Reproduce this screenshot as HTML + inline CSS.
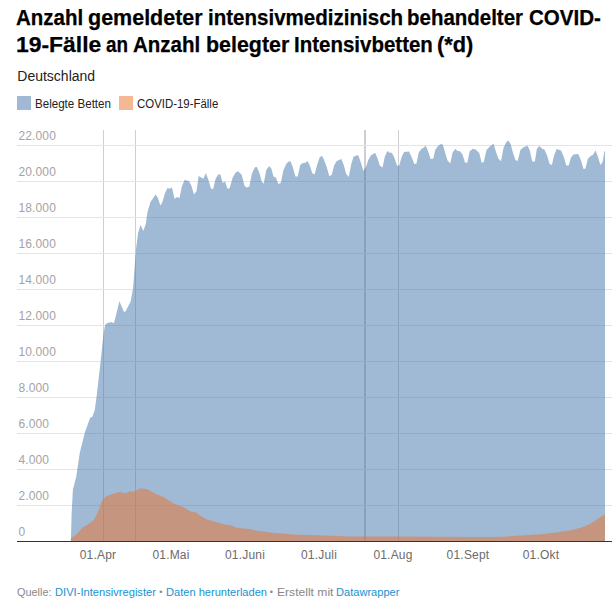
<!DOCTYPE html>
<html><head><meta charset="utf-8"><style>
html,body{margin:0;padding:0;background:#fff;}
body{width:612px;height:603px;position:relative;overflow:hidden;font-family:"Liberation Sans",sans-serif;}
.t{position:absolute;left:17px;font-weight:bold;font-size:22px;line-height:26px;color:#000;-webkit-text-stroke:0.25px #000;white-space:nowrap;transform-origin:0 0;}
.sub{position:absolute;left:17.3px;top:67px;font-size:14px;line-height:18px;color:#222;white-space:nowrap;transform-origin:0 0;}
.lg{position:absolute;top:97px;font-size:12px;line-height:14px;color:#222;white-space:nowrap;transform-origin:0 0;}
.sw{position:absolute;top:96px;width:14px;height:14px;}
.yl{position:absolute;left:18.4px;letter-spacing:0.15px;font-size:12px;line-height:14px;color:#a3a3a3;white-space:nowrap;}
.xl{position:absolute;top:548px;width:80px;text-align:center;letter-spacing:0.2px;font-size:12px;line-height:14px;color:#6b6b6b;white-space:nowrap;}
.ft{position:absolute;left:17px;top:585px;font-size:11px;line-height:14px;color:#888;white-space:nowrap;transform-origin:0 0;}
.lk{color:#1892d0;}
svg{position:absolute;left:0;top:0;}
</style></head><body>
<div class="t" style="top:5px;left:16.27px;transform:scaleX(0.9314)">Anzahl</div>
<div class="t" style="top:5px;left:88.22px;transform:scaleX(0.9767)">gemeldeter</div>
<div class="t" style="top:5px;left:208.37px;transform:scaleX(0.9333)">intensivmedizinisch</div>
<div class="t" style="top:5px;left:406.57px;transform:scaleX(0.9306)">behandelter</div>
<div class="t" style="top:5px;left:528.77px;transform:scaleX(0.9333)">COVID-</div>
<div class="t" style="top:32px;left:16.16px;transform:scaleX(1.0412)">19-Fälle</div>
<div class="t" style="top:32px;left:105.54px;transform:scaleX(0.8583)">an</div>
<div class="t" style="top:32px;left:132.87px;transform:scaleX(0.9314)">Anzahl</div>
<div class="t" style="top:32px;left:205.83px;transform:scaleX(0.9726)">belegter</div>
<div class="t" style="top:32px;left:294.07px;transform:scaleX(0.9313)">Intensivbetten</div>
<div class="t" style="top:32px;left:437.41px;transform:scaleX(0.9914)">(*d)</div>
<div class="sub" id="sub">Deutschland</div>
<div class="sw" style="left:17px;background:#a0b9d5"></div>
<div class="lg" id="lg1" style="left:34.7px;transform:scaleX(0.965)">Belegte Betten</div>
<div class="sw" style="left:119px;background:#f5b895"></div>
<div class="lg" id="lg2" style="left:136.8px;transform:scaleX(0.952)">COVID-19-Fälle</div>
<svg width="612" height="603" viewBox="0 0 612 603">
<line x1="103.5" x2="103.5" y1="130" y2="541" stroke="#cfcfcf" stroke-width="1"/>
<line x1="135.5" x2="135.5" y1="130" y2="541" stroke="#cfcfcf" stroke-width="1"/>
<line x1="365" x2="365" y1="130" y2="541" stroke="#cfcfcf" stroke-width="2"/>
<line x1="398.5" x2="398.5" y1="130" y2="541" stroke="#cfcfcf" stroke-width="1"/>
<line x1="17" x2="612" y1="145.5" y2="145.5" stroke="#e4e4e4" stroke-width="1"/><line x1="17" x2="612" y1="181.5" y2="181.5" stroke="#e4e4e4" stroke-width="1"/><line x1="17" x2="612" y1="217.5" y2="217.5" stroke="#e4e4e4" stroke-width="1"/><line x1="17" x2="612" y1="253.5" y2="253.5" stroke="#e4e4e4" stroke-width="1"/><line x1="17" x2="612" y1="289.5" y2="289.5" stroke="#e4e4e4" stroke-width="1"/><line x1="17" x2="612" y1="325.5" y2="325.5" stroke="#e4e4e4" stroke-width="1"/><line x1="17" x2="612" y1="361.5" y2="361.5" stroke="#e4e4e4" stroke-width="1"/><line x1="17" x2="612" y1="397.5" y2="397.5" stroke="#e4e4e4" stroke-width="1"/><line x1="17" x2="612" y1="433.5" y2="433.5" stroke="#e4e4e4" stroke-width="1"/><line x1="17" x2="612" y1="469.5" y2="469.5" stroke="#e4e4e4" stroke-width="1"/><line x1="17" x2="612" y1="505.5" y2="505.5" stroke="#e4e4e4" stroke-width="1"/>
<path d="M70.9,541.0 L70.9,540.5 L71.6,514.4 L72.9,489.5 L76.2,477.0 L79.9,452.2 L84.9,432.3 L90.3,417.4 L92.3,416.9 L94.8,410.0 L96.8,395.0 L100.6,361.4 L103.6,333.2 L105.1,324.9 L107.3,322.9 L111.4,321.9 L113.9,323.2 L116.1,315.0 L119.4,301.2 L124.0,312.0 L125.7,311.2 L130.7,301.2 L133.1,288.0 L134.8,264.8 L136.1,248.2 L138.1,233.2 L140.5,224.8 L143.3,231.0 L145.8,224.0 L147.5,212.0 L150.4,202.2 L155.6,194.5 L157.8,197.8 L160.4,205.5 L162.3,202.2 L165.0,193.3 L167.5,188.1 L169.8,188.8 L172.0,187.6 L174.6,199.0 L176.9,197.0 L179.5,198.1 L181.7,187.3 L184.4,179.9 L188.9,180.9 L191.4,185.8 L194.0,194.5 L196.6,191.0 L198.6,176.1 L203.4,178.7 L205.9,173.1 L208.5,180.3 L211.0,188.7 L213.2,189.0 L215.7,178.5 L218.4,174.2 L220.4,174.5 L222.6,183.0 L225.1,181.5 L227.4,188.7 L229.6,188.2 L232.6,177.8 L235.6,172.5 L237.8,171.3 L241.6,174.5 L244.6,186.0 L246.8,187.6 L249.3,186.4 L252.0,173.3 L255.0,167.3 L256.9,167.0 L259.5,173.3 L261.7,181.5 L263.7,183.7 L266.2,170.3 L269.2,166.1 L271.4,168.8 L273.4,176.3 L275.9,177.8 L278.4,184.0 L280.8,183.0 L283.4,170.3 L286.3,164.0 L288.0,162.1 L290.4,160.9 L292.7,166.8 L295.4,176.6 L297.7,176.6 L300.2,165.1 L302.9,163.1 L305.1,163.1 L307.4,161.0 L309.6,165.1 L312.3,173.3 L314.6,174.5 L317.1,165.1 L319.6,157.6 L321.9,155.8 L324.1,159.9 L326.8,167.3 L329.3,176.3 L331.7,174.8 L334.3,165.1 L336.8,160.9 L341.3,159.1 L343.5,164.3 L346.2,174.0 L348.7,177.0 L351.4,163.6 L353.7,156.6 L358.1,155.1 L360.4,161.3 L363.4,171.0 L366.1,166.5 L368.3,160.0 L370.9,155.5 L375.1,152.7 L377.2,157.6 L379.9,165.8 L382.6,167.6 L384.7,156.9 L387.4,150.9 L389.6,152.8 L391.9,152.8 L394.1,156.9 L397.1,165.8 L399.3,165.5 L401.6,156.9 L404.1,152.1 L409.0,151.6 L411.6,156.9 L414.3,164.0 L416.5,163.6 L418.7,152.4 L421.7,148.7 L424.0,147.6 L425.7,145.4 L428.0,150.9 L430.7,159.1 L433.2,158.7 L435.4,149.4 L438.1,146.1 L440.4,144.2 L442.6,144.2 L444.9,151.8 L447.5,160.6 L450.3,163.6 L452.6,152.4 L455.1,149.1 L457.7,150.9 L459.9,151.3 L462.5,154.6 L465.1,162.8 L467.4,162.5 L469.6,151.6 L472.6,148.7 L475.6,149.4 L479.3,153.1 L481.6,162.8 L483.8,162.1 L486.5,150.1 L489.8,146.4 L493.5,143.7 L495.7,150.9 L498.3,158.4 L501.0,161.3 L503.5,147.9 L506.2,142.2 L508.4,140.4 L510.7,144.2 L512.9,152.4 L515.4,159.9 L517.8,161.0 L520.4,150.1 L523.4,147.2 L527.6,145.7 L529.8,150.5 L532.2,161.3 L534.8,161.8 L536.9,148.7 L539.5,146.0 L542.1,148.7 L544.4,149.4 L547.1,155.4 L549.6,164.0 L551.9,165.1 L554.1,155.4 L556.6,149.0 L561.1,150.4 L563.8,156.9 L566.3,165.5 L568.7,165.5 L571.0,157.6 L573.5,154.6 L578.3,153.9 L581.0,160.6 L583.5,169.1 L585.4,168.8 L588.0,158.4 L590.7,156.1 L592.9,155.1 L595.4,150.6 L597.7,156.1 L600.4,165.1 L602.6,162.1 L604.5,150.9 L605.0,150.9 L605.0,541.0Z" fill="#4173ab" fill-opacity="0.5"/>
<path d="M70.9,541.0 L70.9,538.0 L74.9,535.5 L77.9,533.0 L82.4,527.6 L84.9,526.3 L89.9,523.1 L93.6,520.6 L97.3,513.2 L102.3,500.7 L106.0,496.5 L111.0,494.5 L119.7,492.0 L125.2,493.3 L129.7,491.5 L134.6,491.5 L139.6,488.5 L147.0,489.0 L154.5,493.3 L164.5,497.5 L174.4,504.0 L181.9,506.4 L191.8,511.9 L196.3,512.4 L200.0,515.5 L207.4,519.7 L214.7,521.7 L224.5,524.6 L230.6,525.3 L236.8,527.8 L249.0,529.0 L256.4,530.7 L263.7,531.5 L271.1,532.7 L283.3,533.4 L293.1,534.4 L307.8,534.9 L322.5,535.4 L337.3,535.9 L350.0,536.6 L400.0,536.6 L470.0,536.9 L493.2,536.9 L507.1,536.4 L525.7,535.2 L544.2,534.1 L558.2,532.2 L572.1,529.9 L581.4,527.6 L589.5,524.3 L597.6,519.0 L604.6,514.4 L605.0,514.4 L605.0,541.0Z" fill="#ec7229" fill-opacity="0.5"/>
<line x1="17" x2="612" y1="541.5" y2="541.5" stroke="#333" stroke-width="1"/>
</svg>
<div class="yl" style="top:129px">22.000</div><div class="yl" style="top:165px">20.000</div><div class="yl" style="top:201px">18.000</div><div class="yl" style="top:237px">16.000</div><div class="yl" style="top:273px">14.000</div><div class="yl" style="top:309px">12.000</div><div class="yl" style="top:345px">10.000</div><div class="yl" style="top:381px">8.000</div><div class="yl" style="top:417px">6.000</div><div class="yl" style="top:453px">4.000</div><div class="yl" style="top:489px">2.000</div><div class="yl" style="top:525px">0</div>
<div class="xl" style="left:58px">01.Apr</div><div class="xl" style="left:131px">01.Mai</div><div class="xl" style="left:205px">01.Juni</div><div class="xl" style="left:279px">01.Juli</div><div class="xl" style="left:353px">01.Aug</div><div class="xl" style="left:428px">01.Sept</div><div class="xl" style="left:501px">01.Okt</div>
<div class="ft" id="ft" style="left:16.9px;transform:scaleX(0.989)">Quelle:</div>
<div class="ft lk" id="f2" style="left:54.5px;transform:scaleX(1.013)">DIVI-Intensivregister</div>
<div class="ft" style="left:159.3px;font-size:9px">•</div>
<div class="ft lk" id="f3" style="left:165.7px;transform:scaleX(1.007)">Daten herunterladen</div>
<div class="ft" style="left:269.8px;font-size:9px">•</div>
<div class="ft" id="f4" style="left:276.9px;transform:scaleX(1.10)">Erstellt mit</div>
<div class="ft lk" id="f5" style="left:335.5px;transform:scaleX(1.008)">Datawrapper</div>
</body></html>
